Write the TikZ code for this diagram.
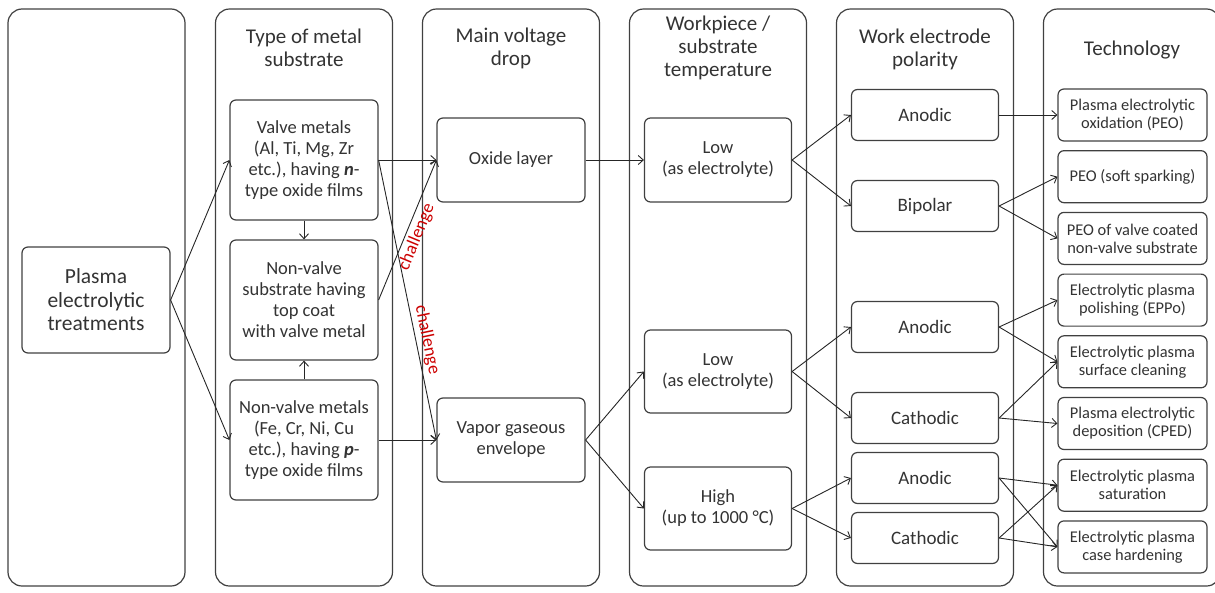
\documentclass[tikz,border=0pt]{standalone}
\usepackage{fontspec}
\setmainfont{Carlito}
\usepackage{tikz}
\usetikzlibrary{arrows.meta,
                positioning}
\tikzset{
        col/.style={draw=black!75, line width=1.2pt, rounded corners=14pt,
                    minimum width=177pt, minimum height=577pt},
        base/.style={draw=black!75, line width=1.2pt, rounded corners=6pt,
                     align=center, inner sep=0pt, text=black!80},
        head/.style={align=center, text=black!80,
                     font=\fontsize{21}{23}\selectfont},
        sub/.style={base, minimum width=148pt, minimum height=120pt,
                    font=\fontsize{18.5}{21}\selectfont},
        drop/.style={base, minimum width=148pt, minimum height=84pt,
                     font=\fontsize{18.5}{21}\selectfont},
        pol/.style={base, minimum width=147pt, minimum height=51pt,
                    font=\fontsize{19}{21}\selectfont},
        tech/.style={base, minimum width=149pt, minimum height=52pt,
                     font=\fontsize{16.4}{18}\selectfont},
        myarrow/.style={-{Straight Barb[length=5pt, width=9pt]},
                        line width=0.9pt, draw=black!85},
        note/.style={text=red!80!black, font=\fontsize{18}{20}\selectfont,
                     inner sep=3pt},
 }

\begin{document}
\begin{tikzpicture}[x=1pt, y=-1pt, node distance=8.5pt]
    \useasboundingbox (0,0) rectangle (1215,592);

    \node[col] (col1) at (96.5,297.5) {};
    \node[col] (col2) at (304,297.5) {};
    \node[col] (col3) at (511,297.5) {};
    \node[col] (col4) at (718,297.5) {};
    \node[col] (col5) at (925,297.5) {};
    \node[col] (col6) at (1132,297.5) {};

    \node[head] (h2) at (304,48) {Type of metal\\substrate};
    \node[head] (h3) at (511,48) {Main voltage\\drop};
    \node[head] (h4) at (718,48) {Workpiece /\\substrate\\temperature};
    \node[head] (h5) at (925,49) {Work electrode\\polarity};
    \node[head] (h6) at (1132,50) {Technology};

    \node[base, minimum width=148pt, minimum height=106pt,
          font=\fontsize{21.5}{23.5}\selectfont] (treat) at (96,300)
          {Plasma\\electrolytic\\treatments};

    \node[sub] (valve) at (304,160)
          {Valve metals\\(Al, Ti, Mg, Zr\\etc.), having \textbf{\textit{n}}-\\type oxide films};
    \node[sub] (coat) at (304,300)
          {Non-valve\\substrate having\\top coat\\with valve metal};
    \node[sub] (nonvalve) at (304,440)
          {Non-valve metals\\(Fe, Cr, Ni, Cu\\etc.), having \textbf{\textit{p}}-\\type oxide films};

    \node[drop] (oxide) at (511,160) {Oxide layer};
    \node[drop] (vapor) at (511,440) {Vapor gaseous\\envelope};

    \node[drop, minimum width=147pt] (low1) at (718,160) {Low\\(as electrolyte)};
    \node[drop, minimum width=147pt, minimum height=83pt] (low2) at (718,371.5) {Low\\(as electrolyte)};
    \node[drop, minimum width=147pt, minimum height=83pt] (high) at (718,508.5) {High\\(up to 1000 °C)};

    \node[pol] (an1) at (925,115) {Anodic};
    \node[pol] (bip) at (925,206) {Bipolar};
    \node[pol] (an2) at (925,327) {Anodic};
    \node[pol] (cat1) at (925,418) {Cathodic};
    \node[pol] (an3) at (925,478) {Anodic};
    \node[pol] (cat2) at (925,538) {Cathodic};

    \node[tech] (t1) at (1132.5,115) {Plasma electrolytic\\oxidation (PEO)};
    \node[tech, below=of t1] (t2) {PEO (soft sparking)};
    \node[tech, below=of t2] (t3) {PEO of valve coated\\non-valve substrate};
    \node[tech, below=of t3] (t4) {Electrolytic plasma\\polishing (EPPo)};
    \node[tech, below=of t4] (t5) {Electrolytic plasma\\surface cleaning};
    \node[tech, below=of t5] (t6) {Plasma electrolytic\\deposition (CPED)};
    \node[tech, below=of t6] (t7) {Electrolytic plasma\\saturation};
    \node[tech, below=of t7] (t8) {Electrolytic plasma\\case hardening};

    \draw[myarrow] (treat.east) -- (valve.west);
    \draw[myarrow] (treat.east) -- (nonvalve.west);
    \draw[myarrow] (valve.south) -- (coat.north);
    \draw[myarrow] (nonvalve.north) -- (coat.south);

    \draw[myarrow] (valve.east) -- (oxide.west);
    \draw[myarrow] (valve.east) -- node[note, pos=0.65, sloped, above] {challenge} (vapor.west);
    \draw[myarrow] (coat.east) -- node[note, pos=0.48, sloped, below] {challenge} (oxide.west);
    \draw[myarrow] (nonvalve.east) -- (vapor.west);

    \draw[myarrow] (oxide.east) -- (low1.west);
    \draw[myarrow] (vapor.east) -- (low2.west);
    \draw[myarrow] (vapor.east) -- (high.west);

    \draw[myarrow] (low1.east) -- (an1.west);
    \draw[myarrow] (low1.east) -- (bip.west);
    \draw[myarrow] (low2.east) -- (an2.west);
    \draw[myarrow] (low2.east) -- (cat1.west);
    \draw[myarrow] (high.east) -- (an3.west);
    \draw[myarrow] (high.east) -- (cat2.west);

    \draw[myarrow] (an1.east) -- (t1.west);
    \draw[myarrow] (bip.east) -- (t2.west);
    \draw[myarrow] (bip.east) -- (t3.west);
    \draw[myarrow] (an2.east) -- (t4.west);
    \draw[myarrow] (an2.east) -- (t5.west);
    \draw[myarrow] (cat1.east) -- (t5.west);
    \draw[myarrow] (cat1.east) -- (t6.west);
    \draw[myarrow] (an3.east) -- (t7.west);
    \draw[myarrow] (an3.east) -- (t8.west);
    \draw[myarrow] (cat2.east) -- (t7.west);
    \draw[myarrow] (cat2.east) -- (t8.west);
\end{tikzpicture}
\end{document}
